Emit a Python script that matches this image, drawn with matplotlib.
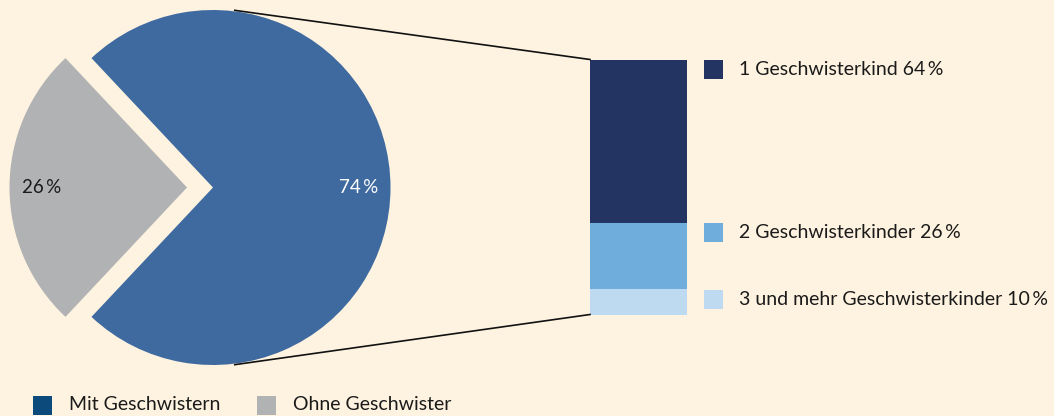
import numpy as np
import matplotlib.pyplot as plt

# data
pie_labels = ["Mit Geschwistern", "Ohne Geschwister"]
pie_values = [74, 26]
bar_labels = ["1 Geschwisterkind", "2 Geschwisterkinder", "3 und mehr Geschwisterkinder"]
bar_values = [64, 26, 10]

bg = "#fef3e0"
pie_colors = ["#3e6aa0", "#b1b2b4"]
legend_colors = ["#0b4a7b", "#b1b2b4"]
bar_colors = ["#233462", "#6faedc", "#bddaf0"]

plt.rcParams['font.family'] = ['Lato', 'DejaVu Sans']
fs = 14

W, H = 1054, 416
fig = plt.figure(figsize=(W / 100, H / 100), dpi=100, facecolor=bg)
ax = fig.add_axes([0, 0, 1, 1])
ax.set_facecolor(bg)

# pie (pixel units, y up); explode is in data units here
cx, cy, r = 213, H - 187.5, 177.5
start = -pie_values[0] / 100 * 180
wedges, texts, autotexts = ax.pie(
    pie_values, colors=pie_colors, startangle=start, radius=r, center=(cx, cy),
    explode=[0, 26], autopct=lambda p: f"{p:.0f}\u2009%", pctdistance=0.82,
    wedgeprops=dict(linewidth=0), textprops=dict(fontsize=13.5))
autotexts[0].set_color("white")
autotexts[1].set_color("#1a1a1a")

# stacked bar
bx, bw = 638.5, 97
scale = 2.55
bar_top = H - 59.5
bottom = bar_top
for v, c in zip(bar_values, bar_colors):
    bottom -= v * scale
    ax.bar(bx, v * scale, width=bw, bottom=bottom, color=c, linewidth=0)
bar_bottom = bottom

# connector lines
ang = np.deg2rad(83)
rr = r + 1
ax.plot([cx + rr * np.cos(ang), bx - bw / 2], [cy + rr * np.sin(ang), bar_top], color="#111111", lw=1.2)
ax.plot([cx + rr * np.cos(-ang), bx - bw / 2], [cy + rr * np.sin(-ang), bar_bottom], color="#111111", lw=1.2)

# right legend
legend_y = [69.5, 232.5, 299.5]
for lab, v, c, y in zip(bar_labels, bar_values, bar_colors, legend_y):
    ax.add_patch(plt.Rectangle((704, H - y - 9.5), 19, 19, color=c, lw=0))
    ax.text(739, H - y, f"{lab} {v}\u2009%", fontsize=fs, color="#1a1a1a", va="center", ha="left")

# bottom legend
for lab, c, sx, tx in zip(pie_labels, legend_colors, [33, 257], [69, 293]):
    ax.add_patch(plt.Rectangle((sx, H - 414.5), 19, 19, color=c, lw=0))
    ax.text(tx, H - 405, lab, fontsize=fs, color="#1a1a1a", va="center", ha="left")

ax.set_xlim(0, W)
ax.set_ylim(0, H)
ax.set_aspect("auto")
ax.axis("off")

fig.savefig("out.png", dpi=100, facecolor=bg)
